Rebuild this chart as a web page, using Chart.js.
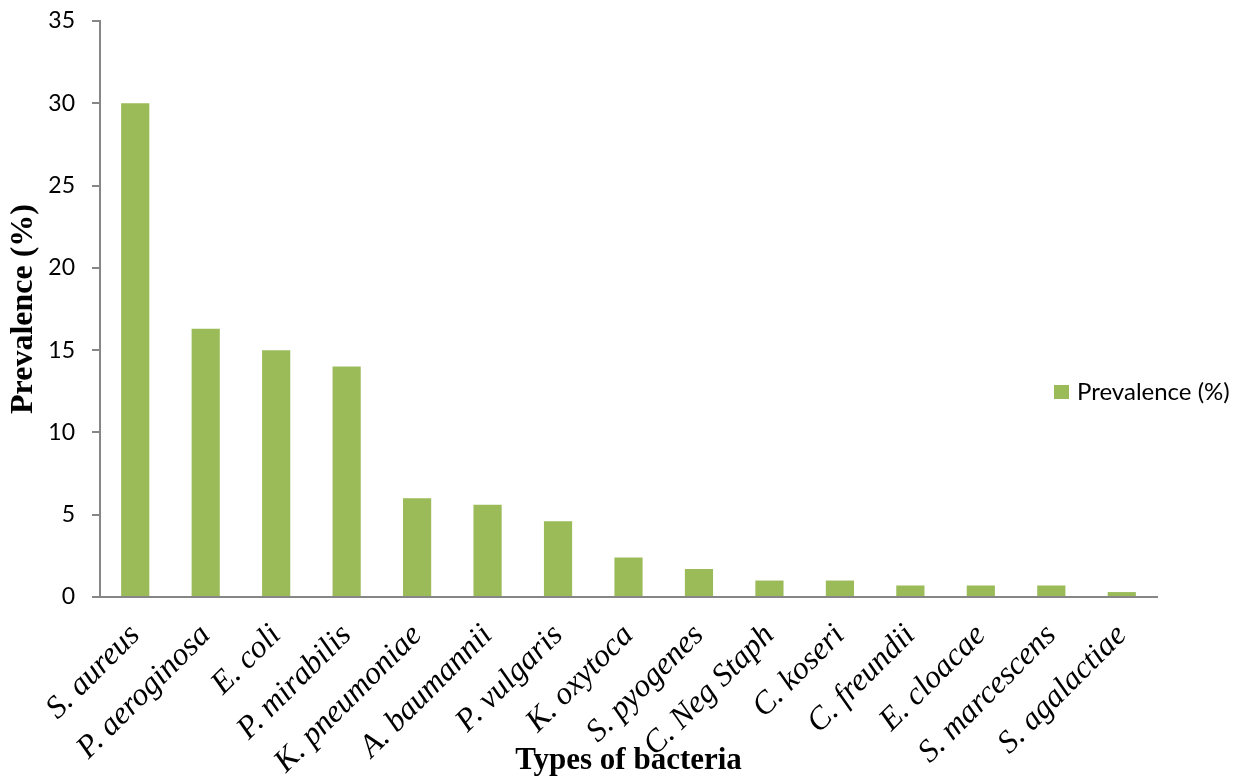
<!DOCTYPE html>
<html>
<head>
<meta charset="utf-8">
<script src="https://cdn.jsdelivr.net/npm/chart.js@4/dist/chart.umd.min.js"></script>
<style>
  html, body { margin: 0; padding: 0; background: #ffffff; }
  #wrap { width: 1243px; height: 782px; }
</style>
</head>
<body>
<div id="wrap"><canvas id="chart" width="1243" height="782"></canvas></div>
<script>
// Bacterial species isolated, in order of prevalence
const bacteria = [
  'S. aureus', 'P. aeroginosa', 'E. coli', 'P. mirabilis', 'K. pneumoniae',
  'A. baumannii', 'P. vulgaris', 'K. oxytoca', 'S. pyogenes', 'C. Neg Staph',
  'C. koseri', 'C. freundii', 'E. cloacae', 'S. marcescens', 'S. agalactiae'
];
// Prevalence of each species (%)
const prevalence = [30, 16.3, 15, 14, 6, 5.6, 4.6, 2.4, 1.7, 1, 1, 0.7, 0.7, 0.7, 0.3];
// Value axis ticks
const yTicks = [0, 5, 10, 15, 20, 25, 30, 35];

const seriesName = 'Prevalence (%)';
const barColor = '#9BBB59';
const axisColor = '#868686';

// Legend drawn to the right of the bars, level with the middle of the plot
const sideLegend = {
  id: 'sideLegend',
  afterDraw(chart) {
    const ds = chart.data.datasets[0];
    const { ctx, chartArea } = chart;
    const x = chartArea.right - 103;
    const y = (chartArea.top + chartArea.bottom) / 2 + 83;
    ctx.save();
    ctx.fillStyle = ds.backgroundColor;
    ctx.fillRect(x, y - 7, 15, 14);
    ctx.fillStyle = '#000000';
    ctx.font = '24px Lato';
    ctx.textAlign = 'left';
    ctx.textBaseline = 'middle';
    ctx.fillText(ds.label, x + 23, y);
    ctx.restore();
  }
};

new Chart(document.getElementById('chart'), {
  type: 'bar',
  data: {
    labels: bacteria,
    datasets: [{
      label: seriesName,
      data: prevalence,
      backgroundColor: barColor,
      borderWidth: 0,
      barPercentage: 0.8,
      categoryPercentage: 0.5
    }]
  },
  options: {
    responsive: false,
    devicePixelRatio: 1,
    animation: false,
    layout: { padding: { top: 21, right: 86, left: 0, bottom: 0 } },
    plugins: {
      legend: { display: false },
      tooltip: { enabled: false }
    },
    scales: {
      x: {
        offset: true,
        grid: { display: false, drawTicks: false },
        border: { display: true, color: axisColor, width: 2 },
        ticks: {
          autoSkip: false,
          minRotation: 45,
          maxRotation: 45,
          padding: 20,
          color: '#000000',
          font: { family: 'Liberation Serif', style: 'italic', size: 32 }
        },
        title: {
          display: true,
          text: 'Types of bacteria',
          color: '#000000',
          font: { family: 'Liberation Serif', weight: 'bold', size: 31 },
          padding: { top: 0, bottom: 2 }
        },
        afterFit(scale) { scale.height = 185; }
      },
      y: {
        min: 0,
        max: 35,
        afterBuildTicks(scale) { scale.ticks = yTicks.map(v => ({ value: v })); },
        grid: {
          drawOnChartArea: false,
          drawTicks: true,
          tickLength: 8,
          tickColor: axisColor,
          lineWidth: 2
        },
        border: { display: true, color: axisColor, width: 2 },
        ticks: {
          padding: 17,
          color: '#000000',
          font: { family: 'Lato', size: 23 }
        },
        title: {
          display: true,
          text: 'Prevalence (%)',
          color: '#000000',
          font: { family: 'Liberation Serif', weight: 'bold', size: 32 },
          padding: { top: 5, bottom: 0 }
        },
        afterFit(scale) {
          scale.width = 100;
          scale.paddingTop = 0;
          scale.paddingBottom = 0;
        }
      }
    }
  },
  plugins: [sideLegend]
});
</script>
</body>
</html>
